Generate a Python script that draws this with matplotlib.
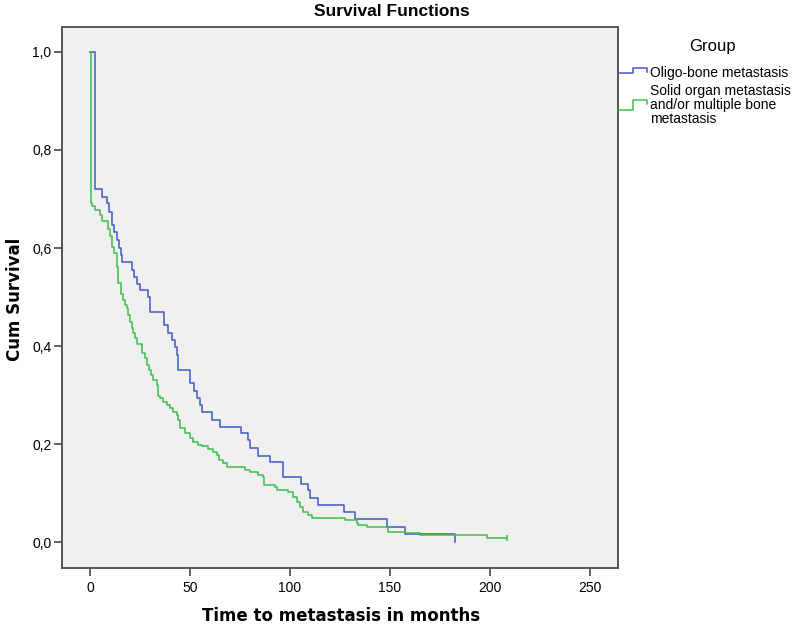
import numpy as np
import matplotlib
matplotlib.use("Agg")
import matplotlib.pyplot as plt
from matplotlib.lines import Line2D

# Kaplan-Meier steps (months, cumulative survival)
oligo_t = [0, 2.5, 5.8, 8.3, 9.7, 10.8, 12.0, 13.3, 14.7, 15.3, 15.8, 20.8, 22.0,
           23.5, 25.0, 29.2, 30.0, 37.0, 38.8, 40.8, 42.3, 43.3, 44.2, 50.0, 52.0,
           53.7, 55.0, 55.8, 61.2, 65.0, 75.3, 79.2, 80.0, 84.2, 90.0, 96.3, 105.3,
           109.2, 110.0, 114.2, 127.2, 132.5, 148.3, 157.5, 182.5]
oligo_s = [1.0, 0.72, 0.705, 0.691, 0.674, 0.647, 0.633, 0.616, 0.599, 0.585, 0.572,
           0.556, 0.541, 0.527, 0.514, 0.50, 0.47, 0.443, 0.426, 0.412, 0.399, 0.382,
           0.351, 0.324, 0.308, 0.293, 0.280, 0.266, 0.250, 0.235, 0.222, 0.208,
           0.191, 0.176, 0.163, 0.133, 0.118, 0.106, 0.089, 0.0755, 0.062, 0.046,
           0.031, 0.017, 0.0]

solid_t = [0, 0.5, 1.0, 2.5, 5.0, 5.8, 9.2, 10.0, 11.0, 12.2, 13.3, 14.2, 15.5,
           16.7, 17.5, 18.3, 19.2, 20.0, 20.8, 21.7, 22.5, 23.3, 25.8, 27.5, 28.3,
           29.5, 30.5, 31.7, 33.3, 33.8, 35.0, 36.7, 38.3, 40.0, 41.7, 43.3, 44.2,
           45.0, 47.5, 50.0, 51.7, 54.2, 55.8, 59.2, 61.7, 63.3, 64.7, 66.3, 68.3,
           77.5, 80.0, 84.2, 86.5, 87.0, 92.5, 93.3, 99.2, 101.7, 103.3, 105.0,
           106.3, 109.2, 110.8, 127.5, 133.3, 134.2, 138.3, 149.2, 157.5, 165.0,
           198.3, 208.3]
solid_s = [1.0, 0.691, 0.685, 0.678, 0.667, 0.655, 0.638, 0.625, 0.603, 0.589,
           0.562, 0.528, 0.507, 0.494, 0.484, 0.477, 0.463, 0.45, 0.436, 0.426,
           0.416, 0.405, 0.385, 0.375, 0.361, 0.351, 0.341, 0.331, 0.320, 0.297,
           0.293, 0.286, 0.280, 0.273, 0.266, 0.259, 0.249, 0.232, 0.222, 0.212,
           0.205, 0.198, 0.195, 0.189, 0.184, 0.178, 0.167, 0.161, 0.154, 0.147,
           0.143, 0.137, 0.133, 0.116, 0.113, 0.106, 0.103, 0.092, 0.082, 0.072,
           0.062, 0.055, 0.050, 0.045, 0.039, 0.035, 0.030, 0.021, 0.018, 0.014,
           0.0075, 0.0075]

xticks = [0, 50, 100, 150, 200, 250]
yticks = [0.0, 0.2, 0.4, 0.6, 0.8, 1.0]
ytick_labels = ["0,0", "0,2", "0,4", "0,6", "0,8", "1,0"]
groups = ["Oligo-bone metastasis",
          "Solid organ metastasis\nand/or multiple bone\nmetastasis"]

blue = "#4159C2"
green = "#3DBE4B"
frame = "#555555"

W, H = 799, 626
fig = plt.figure(figsize=(W / 100, H / 100), dpi=100)
ax = fig.add_axes([62 / W, 1 - 568 / H, (618 - 62) / W, (568 - 27) / H])
ax.set_facecolor("#F0F0F0")

ax.step(oligo_t, oligo_s, where="post", color=blue, lw=1.1)
ax.step(solid_t, solid_s, where="post", color=green, lw=1.1)
ax.plot(solid_t[-1], solid_s[-1], marker="|", color=green, ms=4, mew=1.1)

ax.set_xlim(-14, 264)
ax.set_ylim(-0.053, 1.051)
ax.set_xticks(xticks)
ax.set_xticklabels([str(v) for v in xticks], family="Liberation Sans", fontsize=10)
ax.set_yticks(yticks)
ax.set_yticklabels(ytick_labels, family="Liberation Sans", fontsize=10)
ax.tick_params(axis="x", length=6, width=1.3, color=frame, pad=3.5)
ax.tick_params(axis="y", length=6, width=1.3, color=frame, pad=1.5)
for sp in ax.spines.values():
    sp.set_color(frame)
    sp.set_linewidth(1.4)


def px(x, y):
    return x / W, 1 - y / H


fig.text(*px(341, 616), "Time to metastasis in months", family="DejaVu Sans",
         fontweight="bold", fontsize=12, ha="center", va="center")
fig.text(*px(15, 299), "Cum Survival", family="DejaVu Sans", fontweight="bold",
         fontsize=12, ha="center", va="center", rotation=90)
fig.text(*px(392, 11), "Survival Functions", family="Liberation Sans",
         fontweight="bold", fontsize=12.5, ha="center", va="center")

# legend drawn by hand, SPSS style step glyphs
fig.text(*px(712, 47), "Group", family="Liberation Sans", fontsize=12,
         ha="center", va="center")
for color, label, glyph_y, text_y in [(blue, groups[0], 72.7, 72.7),
                                       (green, groups[1], 110, 105)]:
    rise = 4.5 if color == blue else 10
    xs = [618.5, 633, 633, 646.5, 646.5]
    ys = [glyph_y, glyph_y, glyph_y - rise, glyph_y - rise, glyph_y - rise + 3.5]
    pts = [px(a, b) for a, b in zip(xs, ys)]
    fig.add_artist(Line2D([p[0] for p in pts], [p[1] for p in pts],
                          transform=fig.transFigure, color=color, lw=1.1))
    fig.text(*px(650, text_y), label, family="Liberation Sans", fontsize=10,
             ha="left", va="center", linespacing=1.0)

fig.savefig("out.png", dpi=100)
